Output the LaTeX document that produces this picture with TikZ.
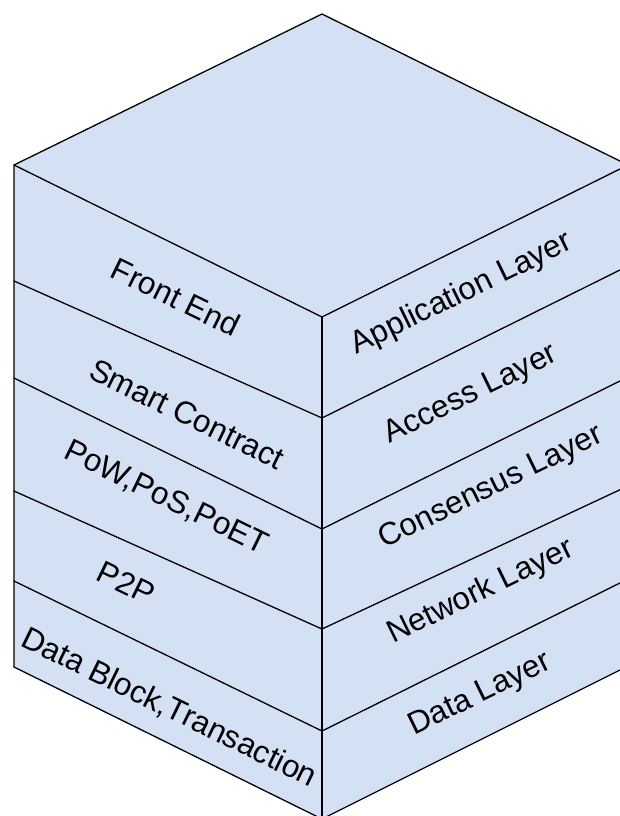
\documentclass[tikz,border=0pt]{standalone}
\usepackage{fontspec}
\setmainfont{Liberation Sans}
\definecolor{face}{RGB}{212,225,245}
\begin{document}
\begin{tikzpicture}[x=1pt,y=-1pt,
  edge/.style={draw=black,line width=1.3pt,line join=round,line cap=round},
  lbl/.style={font=\fontsize{31.5}{37}\selectfont,inner sep=0pt,text=black},
  lefttxt/.style={lbl,rotate=-26},
  righttxt/.style={lbl,rotate=26}]
\useasboundingbox (0,0) rectangle (620,816);
\clip (0,0) rectangle (620,816);
% corners
\coordinate (A) at (322,14);
\coordinate (L0) at (14,165);
\coordinate (L1) at (14,281);
\coordinate (L2) at (14,378);
\coordinate (L3) at (14,491);
\coordinate (L4) at (14,581);
\coordinate (L5) at (14,667);
\coordinate (F0) at (322,317);
\coordinate (F1) at (322,418);
\coordinate (F2) at (322,529);
\coordinate (F3) at (322,629);
\coordinate (F4) at (322,731);
\coordinate (F5) at (322,819);
\coordinate (R0) at (628,165);
\coordinate (R1) at (628,266);
\coordinate (R2) at (628,377);
\coordinate (R3) at (628,486);
\coordinate (R4) at (628,579);
\coordinate (R5) at (628,666);
% fill
\fill[face] (A)--(R0)--(R5)--(F5)--(L5)--(L0)--cycle;
% outline
\draw[edge] (L5)--(L0)--(A)--(R0)--(R5);
\draw[edge] (F0)--(F5);
\draw[edge] (L0)--(F0)--(R0);
\draw[edge] (L1)--(F1)--(R1);
\draw[edge] (L2)--(F2)--(R2);
\draw[edge] (L3)--(F3)--(R3);
\draw[edge] (L4)--(F4)--(R4);
\draw[edge] (L5)--(F5)--(R5);
% left face labels
\node[lefttxt] (fe) at (176,297) {Front End};
\node[lefttxt] (sc) at (187,414) {Smart Contract};
\node[lefttxt] (pow) at (166,498) {PoW,PoS,PoET};
\node[lefttxt] (p2p) at (126,583) {P2P};
\node[lefttxt] (db) at (169,708) {Data Block,Transaction};
% right face labels
\node[righttxt] (app) at (462,294) {Application Layer};
\node[righttxt] (acc) at (471,395) {Access Layer};
\node[righttxt] (con) at (491,488) {Consensus Layer};
\node[righttxt] (net) at (481,592) {Network Layer};
\node[righttxt] (dat) at (480,695) {Data Layer};
\end{tikzpicture}
\end{document}
